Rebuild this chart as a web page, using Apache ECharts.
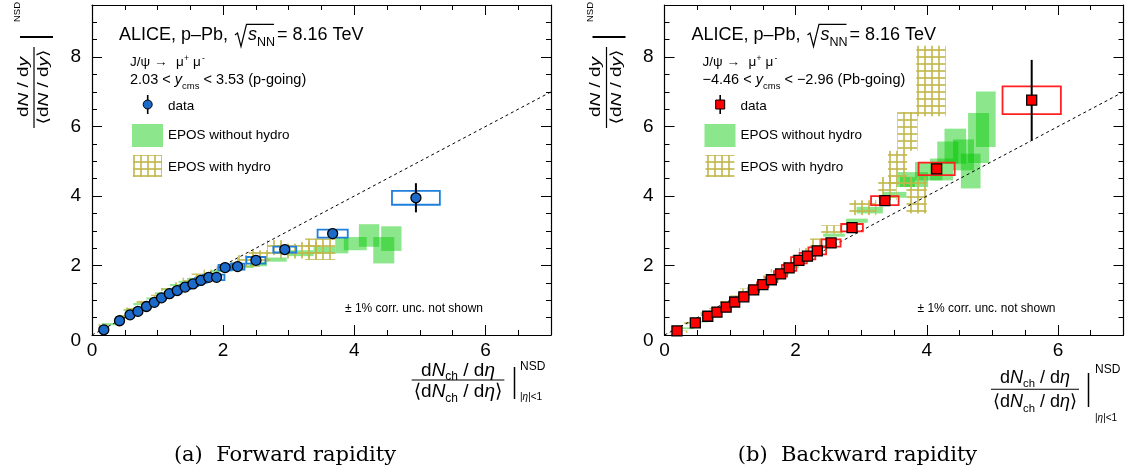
<!DOCTYPE html>
<html><head><meta charset="utf-8">
<script src="https://cdn.jsdelivr.net/npm/echarts@6/dist/echarts.min.js"></script>
<style>html,body{margin:0;padding:0;background:#fff}#c{width:1130px;height:475px}</style>
</head><body><div id="c"></div>
<script>
// ---------------- DATA ----------------
// Forward rapidity (p-going), J/psi data
const fwdX    = [0.18,0.42,0.58,0.70,0.83,0.95,1.06,1.18,1.30,1.42,1.54,1.66,1.78,1.90,2.03,2.22,2.50,2.94,3.67,4.94];
const fwdY    = [0.15,0.41,0.58,0.68,0.82,0.94,1.07,1.19,1.28,1.38,1.47,1.57,1.66,1.66,1.94,1.97,2.15,2.46,2.92,3.95];
const fwdStat = [0.02,0.02,0.02,0.02,0.02,0.02,0.02,0.03,0.03,0.03,0.03,0.03,0.03,0.04,0.04,0.05,0.06,0.08,0.12,0.42];
const fwdSysX = [0.03,0.04,0.04,0.05,0.05,0.06,0.06,0.07,0.07,0.08,0.08,0.09,0.09,0.12,0.10,0.105,0.145,0.175,0.23,0.365];
const fwdSysY = [0.02,0.03,0.03,0.04,0.04,0.05,0.05,0.05,0.06,0.06,0.06,0.07,0.07,0.08,0.08,0.085,0.095,0.085,0.115,0.20];
// Backward rapidity (Pb-going)
const bwdX    = [0.19,0.47,0.66,0.80,0.94,1.07,1.21,1.36,1.50,1.63,1.77,1.90,2.05,2.18,2.33,2.54,2.86,3.36,4.15,5.60];
const bwdY    = [0.12,0.35,0.54,0.66,0.80,0.95,1.10,1.30,1.45,1.59,1.76,1.93,2.15,2.27,2.42,2.65,3.09,3.87,4.78,6.76];
const bwdStat = [0.02,0.02,0.02,0.02,0.03,0.03,0.03,0.03,0.04,0.04,0.04,0.05,0.05,0.06,0.06,0.07,0.09,0.10,0.13,1.16];
const bwdSysX = [0.02,0.03,0.04,0.05,0.055,0.06,0.07,0.08,0.085,0.09,0.10,0.11,0.12,0.12,0.135,0.145,0.165,0.21,0.275,0.445];
const bwdSysY = [0.02,0.03,0.04,0.04,0.05,0.05,0.06,0.06,0.07,0.07,0.08,0.085,0.09,0.095,0.10,0.105,0.105,0.13,0.18,0.40];
// EPOS boxes: [xLow, xHigh, yLow, yHigh]
const eposNoHydroFwd = [
 [0.15,0.38,0.28,0.34],[0.35,0.58,0.48,0.54],[0.48,0.73,0.69,0.75],[0.63,0.86,0.86,0.92],
 [0.83,1.06,1.02,1.08],[0.96,1.19,1.17,1.23],[1.06,1.32,1.29,1.35],[1.19,1.45,1.41,1.47],
 [1.32,1.55,1.50,1.56],[1.45,1.65,1.58,1.64],[1.57,1.78,1.65,1.71],[1.73,1.93,1.74,1.80],
 [1.83,2.03,1.81,1.87],[1.95,2.20,1.84,1.95],[2.15,2.46,1.93,2.01],[2.41,2.67,1.98,2.11],
 [2.67,2.97,2.11,2.23],[2.97,3.38,2.27,2.44],[3.38,3.71,2.34,2.54],[3.71,3.91,2.35,2.81],
 [3.84,4.19,2.44,2.82],[4.07,4.38,2.54,3.19],[4.29,4.61,2.06,2.82],[4.41,4.72,2.42,3.13]
];
const eposHydroFwd = [
 [0.10,0.30,0.25,0.32],[0.40,0.60,0.50,0.58],[0.52,0.72,0.71,0.79],[0.68,0.90,0.90,0.98],
 [0.90,1.10,1.08,1.16],[1.05,1.28,1.27,1.35],[1.22,1.45,1.42,1.52],[1.38,1.60,1.55,1.65],
 [1.52,1.75,1.66,1.77],[1.70,1.92,1.76,1.88],[1.90,2.12,1.85,2.00],[2.05,2.30,1.90,2.10],
 [2.21,2.56,1.96,2.30],[2.39,2.72,2.11,2.44],[2.67,2.97,2.30,2.73],[2.82,3.13,2.20,2.63],
 [3.13,3.48,2.20,2.68],[3.25,3.71,2.16,2.78]
];
const eposNoHydroBwd = [
 [0.20,0.45,0.17,0.22],[0.42,0.66,0.36,0.41],[0.62,0.85,0.55,0.60],[0.80,1.00,0.72,0.77],
 [0.95,1.15,0.88,0.94],[1.10,1.30,1.04,1.10],[1.25,1.45,1.22,1.28],[1.40,1.60,1.40,1.46],
 [1.55,1.75,1.57,1.64],[1.70,1.90,1.74,1.81],[1.85,2.05,1.92,2.00],[2.00,2.22,2.10,2.20],
 [2.15,2.40,2.30,2.40],[2.42,2.75,2.83,2.92],[2.77,3.10,3.23,3.35],[2.93,3.33,3.50,3.69],
 [3.33,3.69,3.95,4.12],[3.56,4.02,4.26,4.69],[3.59,3.82,4.26,4.55],[3.82,4.24,4.45,4.98],
 [4.05,4.40,4.45,5.08],[4.16,4.48,4.93,5.57],[4.27,4.60,4.93,5.94],[4.40,4.72,4.74,5.63],
 [4.52,4.82,4.22,5.22],[4.63,4.95,4.95,6.39],[4.75,5.05,5.41,7.01]
];
const eposHydroBwd = [
 [0.08,0.35,0.06,0.13],[0.30,0.52,0.30,0.37],[0.55,0.75,0.58,0.66],[0.68,0.90,0.74,0.82],
 [0.85,1.05,0.90,0.98],[1.00,1.22,1.06,1.14],[1.15,1.38,1.25,1.34],[1.35,1.55,1.44,1.52],
 [1.50,1.70,1.62,1.72],[1.62,1.85,1.80,1.90],[1.78,2.00,1.98,2.10],[1.95,2.15,2.20,2.30],
 [2.05,2.30,2.40,2.50],[2.22,2.52,2.54,2.78],[2.39,2.72,2.92,3.16],[2.82,3.23,3.45,3.88],
 [3.26,3.54,3.88,4.55],[3.69,4.00,3.50,4.55],[3.41,3.70,4.26,5.30],[3.55,3.86,5.30,6.42],
 [3.84,4.29,6.30,8.33]
];
const refLine = [[0,0],[7,7]];
const xTickLabels = [0,2,4,6];
const yTickLabels = [0,2,4,6,8];

// ---------------- HELPERS ----------------
const FAM = '"Liberation Sans","DejaVu Sans",Arial,sans-serif';
const SERIF = '"DejaVu Serif",serif';
const mctx = document.createElement('canvas').getContext('2d');
function fontOf(s,it,fam){return (it?'italic ':'')+s+'px '+(fam||FAM);}
function textW(t,s,it,fam){mctx.font=fontOf(s,it,fam);return mctx.measureText(t).width;}
function midOff(s,it,fam){mctx.font=fontOf(s,it,fam);mctx.textBaseline='middle';const d=mctx.measureText('H').actualBoundingBoxDescent;mctx.textBaseline='alphabetic';return d;}
function runW(pieces){return pieces.reduce((a,p)=>a+textW(p[0],p[1],p[2]),0);}
function run(x,base,pieces,fam){
  const out=[];let cx=x;
  for(const p of pieces){
    const [t,s,it,dy]=p;
    out.push({type:'text',x:cx,y:base+(dy||0)-midOff(s,it,fam),silent:true,z:100,
      style:{text:t,fontSize:s,fontStyle:it?'italic':'normal',fontFamily:fam||FAM,fill:'#000',align:'left',verticalAlign:'middle'}});
    cx+=textW(t,s,it,fam);
  }
  return out;
}
function line(x1,y1,x2,y2,w){return {type:'line',silent:true,z:100,shape:{x1,y1,x2,y2},style:{stroke:'#000',lineWidth:w||1}};}

// hatch pattern
const hatch=document.createElement('canvas');hatch.width=7;hatch.height=7;
(function(){const c=hatch.getContext('2d');c.fillStyle='rgba(192,182,72,0.8)';c.fillRect(0,0,7,2);c.fillRect(0,0,2,7);})();
const hatchFill={image:hatch,repeat:'repeat'};
const greenFill='rgba(0,200,0,0.45)';

// ---------------- AXES ----------------
function mkX(gi,pos,iv,len,labels,showLine){
  return {type:'value',gridIndex:gi,position:pos,min:0,max:7,interval:iv,
    axisLine:{show:showLine,onZero:false,lineStyle:{color:'#000',width:1.2}},
    axisTick:{show:true,inside:true,length:len,lineStyle:{color:'#000',width:1}},
    splitLine:{show:false},
    axisLabel:labels?{show:true,margin:6,color:'#000',fontSize:19,fontFamily:FAM,
      formatter:v=>xTickLabels.includes(v)?String(v):''}:{show:false}};
}
function mkY(gi,pos,iv,len,labels,showLine){
  return {type:'value',gridIndex:gi,position:pos,min:0,max:9.5,interval:iv,
    axisLine:{show:showLine,onZero:false,lineStyle:{color:'#000',width:1.2}},
    axisTick:{show:true,inside:true,length:len,lineStyle:{color:'#000',width:1}},
    splitLine:{show:false},
    axisLabel:labels?{show:true,margin:11,color:'#000',fontSize:19,fontFamily:FAM,
      formatter:v=>!yTickLabels.includes(v)?'':(v===0?'{z|0}':String(v)),
      rich:{z:{fontSize:19,fontFamily:FAM,color:'#000',padding:[12,0,0,0]}}}:{show:false}};
}
const xAxes=[],yAxes=[];
for(let g=0;g<2;g++){
  xAxes.push(mkX(g,'bottom',0.5,5,true,true),mkX(g,'bottom',2,10,false,false),mkX(g,'top',0.5,5,false,true),mkX(g,'top',2,10,false,false));
  yAxes.push(mkY(g,'left',0.5,5,true,true),mkY(g,'left',2,10,false,false),mkY(g,'right',0.5,5,false,true),mkY(g,'right',2,10,false,false));
}

// ---------------- SERIES ----------------
function boxSeries(data,ax,style,z){
  return {type:'custom',xAxisIndex:ax,yAxisIndex:ax,z,silent:true,clip:true,data,
    encode:{x:[0,1],y:[2,3]},
    renderItem(params,api){
      const a=api.coord([api.value(0),api.value(2)]);
      const b=api.coord([api.value(1),api.value(3)]);
      return {type:'rect',shape:{x:Math.min(a[0],b[0]),y:Math.min(a[1],b[1]),width:Math.abs(b[0]-a[0]),height:Math.abs(b[1]-a[1])},style:Object.assign({},style)};
    }};
}
function pts(X,Y,S,SX,SY){return X.map((x,i)=>[x,Y[i],S[i],SX[i],SY[i]]);}
function sysSeries(data,ax,color){
  return {type:'custom',xAxisIndex:ax,yAxisIndex:ax,z:5,silent:true,data,encode:{x:0,y:1},
    renderItem(params,api){
      const x=api.value(0),y=api.value(1),sx=api.value(3),sy=api.value(4);
      const a=api.coord([x-sx,y-sy]),b=api.coord([x+sx,y+sy]);
      return {type:'rect',shape:{x:a[0],y:b[1],width:b[0]-a[0],height:a[1]-b[1]},style:{fill:'none',stroke:color,lineWidth:1.8}};
    }};
}
function errSeries(data,ax){
  return {type:'custom',xAxisIndex:ax,yAxisIndex:ax,z:6,silent:true,data,encode:{x:0,y:1},
    renderItem(params,api){
      const x=api.value(0),y=api.value(1),e=api.value(2);
      const a=api.coord([x,y-e]),b=api.coord([x,y+e]);
      return {type:'line',shape:{x1:a[0],y1:a[1],x2:b[0],y2:b[1]},style:{stroke:'#000',lineWidth:2}};
    }};
}
const fwdPts=pts(fwdX,fwdY,fwdStat,fwdSysX,fwdSysY);
const bwdPts=pts(bwdX,bwdY,bwdStat,bwdSysX,bwdSysY);
const series=[];
[[0,eposNoHydroFwd,eposHydroFwd,fwdPts,'#1f7fdc','#1c6ac9','circle'],
 [4,eposNoHydroBwd,eposHydroBwd,bwdPts,'#ff2020','#ff0000','rect']].forEach(([ax,g,h,P,boxC,mC,sym])=>{
  series.push(boxSeries(g,ax,{fill:greenFill},1));
  series.push(boxSeries(h,ax,{fill:hatchFill},2));
  series.push({type:'line',xAxisIndex:ax,yAxisIndex:ax,z:3,data:refLine,symbol:'none',silent:true,
    lineStyle:{color:'#000',width:1,type:[3,3]}});
  series.push(sysSeries(P,ax,boxC));
  series.push(errSeries(P,ax));
  series.push({type:'scatter',xAxisIndex:ax,yAxisIndex:ax,z:7,silent:true,data:P.map(p=>[p[0],p[1]]),
    symbol:sym,symbolSize:10,itemStyle:{color:mC,borderColor:'#000',borderWidth:1.3,opacity:1}});
});

// ---------------- ANNOTATIONS ----------------
const G=[];
function panel(dx,fwd){
  // title
  G.push(...run(119+dx,40,[['ALICE, p–Pb,',18]]));
  G.push({type:'polyline',silent:true,z:100,shape:{points:[[235+dx,35],[237.5+dx,33],[241+dx,46.5],[246.5+dx,24.3],[274+dx,24.3]]},style:{stroke:'#000',lineWidth:1.2,fill:null}});
  G.push(...run(248+dx,40,[['s',18,true]]));
  G.push(...run(257+dx,45.5,[['NN',12.5]]));
  G.push(...run(277+dx,40,[['= 8.16 TeV',18]]));
  // decay
  G.push(...run(130+dx,66,[['J/ψ',13.5]]));
  G.push(...run(154+dx,66,[['→',13.5]]));
  G.push(...run(176+dx,66,[['μ',13.5]]));
  G.push(...run(184+dx,61,[['+',8.5]]));
  G.push(...run(193+dx,66,[['μ',13.5]]));
  G.push(...run(202+dx,61,[['-',8.5]]));
  if(fwd) G.push(...run(130+dx,84.3,[['2.03 < ',14.5],['y',14.5,true],['cms',9.5,false,5],[' < 3.53 (p-going)',14.5]]));
  else    G.push(...run(130+dx,84.3,[['−4.46 < ',14.5],['y',14.5,true],['cms',9.5,false,5],[' < −2.96 (Pb-going)',14.5]]));
  // legend
  const mx=147.7+dx;
  G.push(line(mx,95,mx,114,1.6));
  if(fwd) G.push({type:'circle',silent:true,z:101,shape:{cx:mx,cy:104.5,r:4.5},style:{fill:'#1c6ac9',stroke:'#000',lineWidth:1}});
  else G.push({type:'rect',silent:true,z:101,shape:{x:mx-4.5,y:100,width:9,height:9},style:{fill:'#ff0000',stroke:'#000',lineWidth:1}});
  G.push(...run(168+dx,110,[['data',13.5]]));
  G.push({type:'rect',silent:true,z:100,shape:{x:132+dx,y:124,width:31,height:23},style:{fill:greenFill}});
  G.push(...run(168+dx,139.3,[['EPOS without hydro',13.5]]));
  G.push({type:'rect',silent:true,z:100,shape:{x:133+dx,y:155,width:29,height:22},style:{fill:hatchFill}});
  G.push(...run(168+dx,170.5,[['EPOS with hydro',13.5]]));
  G.push(...run(345+dx,311.5,[['± 1% corr. unc. not shown',12]]));
  // y-axis title (rotated)
  const yc=87, bx=34+dx, S=0.8;
  const num=[['d',19],['N',19,true],[' / d',19],['y',19,true]];
  const den=[['⟨d',19],['N',19,true],[' / d',19],['y',19,true],['⟩',19]];
  const wn=runW(num), wd=runW(den);
  G.push({type:'group',x:bx,y:yc,rotation:Math.PI/2,scaleY:S,silent:true,z:100,children:[
    ...run(-wn/2,-6.5/S,num), ...run(-wd/2,14/S,den)
  ]});
  G.push(line(bx,47,bx,128,1.2));
  G.push(line(20+dx,37,53+dx,37,2));
  G.push({type:'group',x:20+dx,y:22,rotation:Math.PI/2,silent:true,z:100,children:[...run(0,0,[['NSD',9.5]])]});
}
panel(0,true);
panel(572.5,false);

function xTitle(cx,s,nb,db,barY,vx,v1,v2,nsdX,nsdB,etaB){
  const num=[['d',s],['N',s,true],['ch',s*0.63,false,4],[' / d',s],['η',s,true]];
  const den=[['⟨d',s],['N',s,true],['ch',s*0.63,false,5],[' / d',s],['η',s,true],['⟩',s]];
  const wn=runW(num),wd=runW(den),w=Math.max(wn,wd)+4;
  G.push(...run(cx-wn/2,nb,num));
  G.push(...run(cx-wd/2,db,den));
  G.push(line(cx-w/2,barY,cx+w/2,barY,1.1));
  G.push(line(vx,v1,vx,v2,1.5));
  G.push(...run(nsdX,nsdB,[['NSD',12]]));
  G.push(...run(nsdX,etaB,[['|',10],['η',10,true],['|<1',10]]));
}
xTitle(458,19,376,396.7,380,514.5,367,399,520,369.5,400);
xTitle(1035,18,383.3,406.7,389.3,1088.5,373,407,1095,373.3,421);

G.push({type:'text',x:285,y:456,silent:true,style:{text:'(a)  Forward rapidity',fontSize:21,fontFamily:SERIF,fill:'#000',align:'center',verticalAlign:'middle'}});
G.push({type:'text',x:857.5,y:456,silent:true,style:{text:'(b)  Backward rapidity',fontSize:21,fontFamily:SERIF,fill:'#000',align:'center',verticalAlign:'middle'}});

// ---------------- CHART ----------------
const chart=echarts.init(document.getElementById('c'),null,{renderer:'canvas'});
chart.setOption({
  animation:false,
  backgroundColor:'#fff',
  grid:[{left:92,top:5,width:459,height:330},{left:664.5,top:5,width:459,height:330}],
  xAxis:xAxes, yAxis:yAxes, series, graphic:{elements:G}
});
</script></body></html>
